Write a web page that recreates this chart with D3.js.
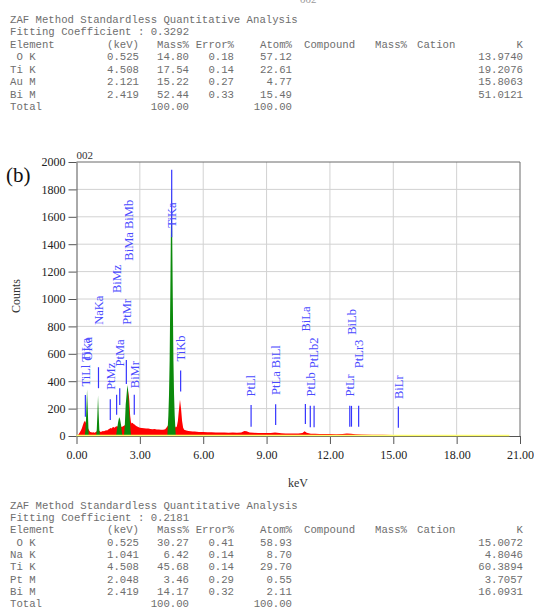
<!DOCTYPE html>
<html>
<head>
<meta charset="utf-8">
<script src="https://cdn.jsdelivr.net/npm/d3@7"></script>
<style>
  body { margin: 0; background: #fff; }
  svg { display: block; }
</style>
</head>
<body>
<script>
// ---------- data ----------
const zafTitle = "ZAF Method Standardless Quantitative Analysis";
const headerCols = ["Element", "(keV)", "Mass%", "Error%", "Atom%", "Compound", "Mass%", "Cation", "K"];

// top table (sample a)
const fitTop = "0.3292";
const elemTop = [" O K", "Ti K", "Au M", "Bi M"];
const kevTop = ["0.525", "4.508", "2.121", "2.419"];
const massTop = ["14.80", "17.54", "15.22", "52.44"];
const errTop = ["0.18", "0.14", "0.27", "0.33"];
const atomTop = ["57.12", "22.61", "4.77", "15.49"];
const kTop = ["13.9740", "19.2076", "15.8063", "51.0121"];

// bottom table (sample b)
const fitBot = "0.2181";
const elemBot = [" O K", "Na K", "Ti K", "Pt M", "Bi M"];
const kevBot = ["0.525", "1.041", "4.508", "2.048", "2.419"];
const massBot = ["30.27", "6.42", "45.68", "3.46", "14.17"];
const errBot = ["0.41", "0.14", "0.14", "0.29", "0.32"];
const atomBot = ["58.93", "8.70", "29.70", "0.55", "2.11"];
const kBot = ["15.0072", "4.8046", "60.3894", "3.7057", "16.0931"];

// spectrum (keV, counts)
const spectrum = [
  [0.00,0],[0.05,3],[0.10,12],[0.15,25],[0.20,38],[0.25,55],[0.30,78],[0.35,100],[0.40,112],[0.45,95],
  [0.50,70],[0.55,55],[0.60,40],[0.65,30],[0.70,28],[0.75,25],[0.80,27],[0.85,24],[0.90,28],[0.95,32],
  [1.00,38],[1.05,40],[1.10,34],[1.15,30],[1.20,33],[1.25,36],[1.30,34],[1.35,38],[1.40,42],[1.45,40],
  [1.50,48],[1.55,52],[1.60,58],[1.65,55],[1.70,62],[1.75,66],[1.80,60],[1.85,68],[1.90,72],[1.95,70],
  [2.00,76],[2.05,74],[2.10,70],[2.15,66],[2.20,72],[2.25,75],[2.30,80],[2.35,90],[2.40,200],[2.46,330],
  [2.50,260],[2.54,150],[2.58,100],[2.62,92],[2.66,96],[2.70,88],[2.75,84],[2.80,76],[2.85,72],[2.90,68],
  [2.95,64],[3.00,60],[3.10,58],[3.20,56],[3.30,54],[3.40,55],[3.50,52],[3.60,50],[3.70,51],[3.80,47],
  [3.90,48],[4.00,46],[4.10,45],[4.20,50],[4.30,70],[4.40,95],[4.50,110],[4.60,90],[4.70,62],[4.75,70],
  [4.80,110],[4.85,190],[4.90,265],[4.95,200],[5.00,110],[5.05,60],[5.10,45],[5.20,40],[5.30,36],[5.40,35],
  [5.50,33],[5.60,32],[5.80,30],[6.00,29],[6.20,27],[6.40,28],[6.60,26],[6.80,25],[7.00,25],[7.20,24],
  [7.40,25],[7.60,23],[7.80,26],[7.95,36],[8.05,34],[8.20,25],[8.40,23],[8.60,22],[8.80,21],[9.00,21],
  [9.20,22],[9.40,26],[9.50,24],[9.70,20],[9.90,19],[10.10,18],[10.30,19],[10.50,18],[10.70,22],[10.80,34],
  [10.90,24],[11.10,17],[11.30,16],[11.50,15],[11.80,14],[12.00,14],[12.30,13],[12.60,14],[12.80,18],[13.00,16],
  [13.20,12],[13.50,11],[14.00,10],[14.50,9],[15.00,8],[15.50,7],[16.00,6],[16.50,6],[17.00,5],[17.50,4],
  [18.00,4],[18.50,3],[19.00,3],[19.50,2],[20.00,1],[20.50,0]
];

// fitted element peaks (green)
const peakO  = [[0.39,0],[0.42,40],[0.45,120],[0.48,250],[0.50,340],[0.52,250],[0.55,120],[0.58,0]];
const peakNa = [[0.93,0],[0.96,50],[0.99,160],[1.02,295],[1.05,160],[1.08,50],[1.11,0]];
const peakPt = [[1.87,0],[1.92,50],[1.97,100],[2.02,137],[2.06,125],[2.11,80],[2.17,0]];
const peakBi = [[2.25,0],[2.29,90],[2.33,230],[2.37,300],[2.41,373],[2.44,340],[2.48,230],[2.52,120],[2.56,40],[2.59,0]];
const peakTi = [[4.30,0],[4.32,60],[4.35,150],[4.38,300],[4.41,550],[4.44,1000],[4.47,1500],[4.50,1841],
                [4.53,1500],[4.56,1000],[4.59,550],[4.62,300],[4.65,150],[4.68,60],[4.70,0]];

// KLM markers: label, keV, line from, line to, label starts at (counts)
const markers = [
  ["TiLl TiLa", 0.42, 141, 300, 361],
  ["OKa", 0.525, 0, 0, 550],
  ["NaKa", 1.041, 349, 502, 812],
  ["PtMz", 1.60, 117, 268, 337],
  ["BiMz", 1.90, 156, 302, 1043],
  ["PtMa", 2.048, 227, 349, 507],
  ["PtMr", 2.36, 380, 555, 812],
  ["BiMa BiMb", 2.45, 0, 0, 1280],
  ["BiMr", 2.736, 156, 302, 349],
  ["TiKa", 4.508, 1450, 1944, 1520],
  ["TiKb", 4.931, 324, 478, 544],
  ["PtLl", 8.267, 68, 227, 288],
  ["PtLa BiLl", 9.43, 80, 232, 300],
  ["BiLa", 10.838, 88, 234, 763],
  ["PtLb", 11.07, 63, 220, 288],
  ["PtLb2", 11.25, 63, 220, 495],
  ["PtLr", 12.94, 68, 220, 288],
  ["BiLb", 13.02, 68, 220, 739],
  ["PtLr3", 13.36, 68, 220, 495],
  ["BiLr", 15.24, 61, 215, 270]
];

const xTicks = [0, 3, 6, 9, 12, 15, 18, 21];
const yTicks = [0, 200, 400, 600, 800, 1000, 1200, 1400, 1600, 1800, 2000];

// ---------- svg ----------
const W = 534, H = 613;
const svg = d3.select("body").append("svg")
    .attr("width", W)
    .attr("height", H);

// ---------- tables ----------
const mono = "'Liberation Mono', 'DejaVu Sans Mono', monospace";
const tableColor = "#6e6e6e";
// column anchors (x, anchor) for header and value columns
const hdrPos = [[10, "start"], [139, "end"], [189, "end"], [234, "end"], [292, "end"],
                [304, "start"], [375, "start"], [417, "start"], [523, "end"]];
const colKev = 139, colMass = 189, colErr = 234, colAtom = 292, colK = 523;

function drawTable(top, step, fit, elems, kev, mass, err, atom, k) {
    let g = svg.append("g")
        .attr("font-family", mono)
        .attr("font-size", "10.67px")
        .attr("fill", tableColor);

    let put = (txt, x, row, anchor) => g.append("text")
        .attr("x", x)
        .attr("y", top + row * step)
        .attr("text-anchor", anchor || "start")
        .attr("xml:space", "preserve")
        .style("white-space", "pre")
        .text(txt);

    put(zafTitle, 10, 0);
    put("Fitting Coefficient : " + fit, 10, 1);
    headerCols.forEach((h, i) => put(h, hdrPos[i][0], 2, hdrPos[i][1]));
    elems.forEach((e, i) => {
        put(e, 10, 3 + i);
        put(kev[i], colKev, 3 + i, "end");
        put(mass[i], colMass, 3 + i, "end");
        put(err[i], colErr, 3 + i, "end");
        put(atom[i], colAtom, 3 + i, "end");
        put(k[i], colK, 3 + i, "end");
    });
    let last = 3 + elems.length;
    put("Total", 10, last);
    put("100.00", colMass, last, "end");
    put("100.00", colAtom, last, "end");
}

drawTable(22.5, 12.5, fitTop, elemTop, kevTop, massTop, errTop, atomTop, kTop);
drawTable(508.5, 12.35, fitBot, elemBot, kevBot, massBot, errBot, atomBot, kBot);

// cut-off header of the page above
svg.append("text")
    .attr("x", 300).attr("y", 3)
    .attr("font-family", "'Liberation Serif', serif")
    .attr("font-size", "11px")
    .attr("fill", "#999")
    .text("002");

// ---------- chart ----------
const serif = "'Liberation Serif', 'Times New Roman', serif";
const x = d3.scaleLinear().domain([0, 21]).range([76.5, 520]);
const y = d3.scaleLinear().domain([0, 2000]).range([436, 162]);

// grid
const grid = svg.append("g").attr("stroke", "#d2d2d2").attr("stroke-width", 1);
grid.selectAll(".hy").data(yTicks.slice(1, -1)).join("line")
    .attr("x1", x(0)).attr("x2", x(21))
    .attr("y1", d => y(d)).attr("y2", d => y(d));
grid.selectAll(".vx").data(xTicks.slice(1, -1)).join("line")
    .attr("x1", d => x(d)).attr("x2", d => x(d))
    .attr("y1", y(0)).attr("y2", y(2000));

// spectrum
let area = d3.area()
    .x(d => x(d[0]))
    .y0(y(0))
    .y1(d => y(d[1]));

svg.append("path")
    .datum(spectrum)
    .attr("fill", "#ff0000")
    .attr("d", area);

[peakO, peakNa, peakPt, peakBi, peakTi].forEach(p => {
    svg.append("path")
        .datum(p)
        .attr("fill", "#0b8a0b")
        .attr("d", area);
});

// frame (top and right)
svg.append("path")
    .attr("d", `M${x(0)},${y(2000)}H${x(21)}V${y(0)}`)
    .attr("fill", "none")
    .attr("stroke", "#6a6a6a");

// axes
let yAxis = svg.append("g")
    .attr("transform", `translate(${x(0)},0)`)
    .call(d3.axisLeft(y).tickValues(yTicks).tickFormat(d3.format("d"))
        .tickSize(8).tickPadding(3).tickSizeOuter(0));
let xAxis = svg.append("g")
    .attr("transform", `translate(0,${y(0)})`)
    .call(d3.axisBottom(x).tickValues(xTicks).tickFormat(d3.format(".2f"))
        .tickSize(8).tickPadding(6).tickSizeOuter(0));

[yAxis, xAxis].forEach(a => {
    a.selectAll("path, line").attr("stroke", "#555");
    a.selectAll("text")
        .attr("font-family", serif)
        .attr("font-size", "12px")
        .attr("fill", "#222");
});

// baseline trace
svg.append("line")
    .attr("x1", x(0)).attr("x2", x(20.5))
    .attr("y1", y(0) - 0.5).attr("y2", y(0) - 0.5)
    .attr("stroke", "#ffff70")
    .attr("stroke-width", 1.5);

// markers
let mk = svg.append("g");
mk.selectAll("line").data(markers.filter(m => m[3] > m[2])).join("line")
    .attr("x1", d => x(d[1])).attr("x2", d => x(d[1]))
    .attr("y1", d => y(d[2])).attr("y2", d => y(d[3]))
    .attr("stroke", "#3535ff")
    .attr("stroke-width", 1.2);

mk.selectAll("text").data(markers).join("text")
    .attr("transform", d => `translate(${x(d[1])},${y(d[4])}) rotate(-90)`)
    .attr("dy", "0.35em")
    .attr("font-family", serif)
    .attr("font-size", "12.5px")
    .attr("fill", "#4a4aff")
    .text(d => d[0]);

// labels
svg.append("text")
    .attr("x", x(0)).attr("y", 159)
    .attr("font-family", serif).attr("font-size", "11px").attr("fill", "#333")
    .text("002");

svg.append("text")
    .attr("x", 6).attr("y", 182)
    .attr("font-family", serif).attr("font-size", "21px").attr("fill", "#111")
    .text("(b)");

svg.append("text")
    .attr("transform", "translate(20,296) rotate(-90)")
    .attr("text-anchor", "middle")
    .attr("font-family", serif).attr("font-size", "12px").attr("fill", "#333")
    .text("Counts");

svg.append("text")
    .attr("x", 298).attr("y", 487)
    .attr("text-anchor", "middle")
    .attr("font-family", serif).attr("font-size", "12px").attr("fill", "#333")
    .text("keV");
</script>
</body>
</html>
